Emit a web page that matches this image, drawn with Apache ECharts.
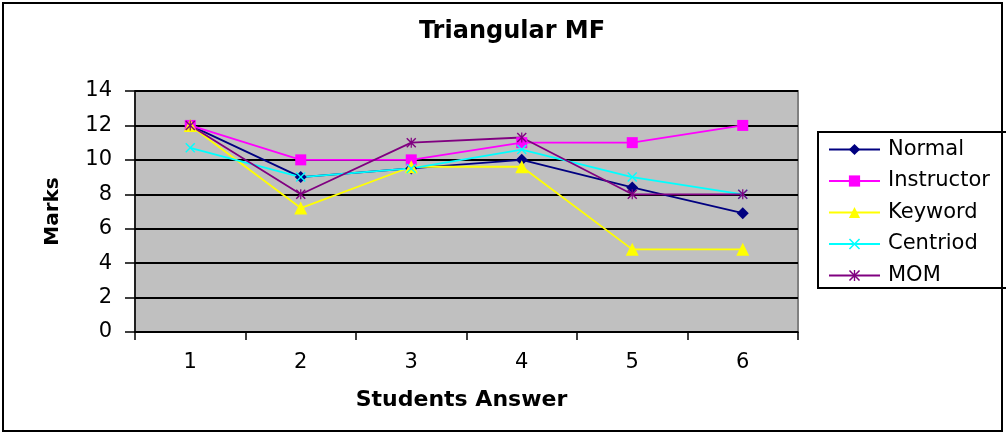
<!DOCTYPE html>
<html>
<head>
<meta charset="utf-8">
<script src="https://cdn.jsdelivr.net/npm/echarts@6/dist/echarts.min.js"></script>
<style>
html,body{margin:0;padding:0;background:#fff;}
#chart{width:1006px;height:433px;}
</style>
</head>
<body>
<div id="chart"></div>
<script>
var categories = ['1', '2', '3', '4', '5', '6'];
var normal     = [12, 9, 9.5, 10, 8.4, 6.9];
var instructor = [12, 10, 10, 11, 11, 12];
var keyword    = [12, 7.2, 9.6, 9.6, 4.8, 4.8];
var centriod   = [10.7, 9, 9.5, 10.6, 9, 8];
var mom        = [12, 8, 11, 11.3, 8, 8];
var seriesNames = ['Normal', 'Instructor', 'Keyword', 'Centriod', 'MOM'];

var crossPath = 'path://M0,1 L1,0 L5,4 L9,0 L10,1 L6,5 L10,9 L9,10 L5,6 L1,10 L0,9 L4,5 Z';
var starPath = 'path://M0,1 L1,0 L5,4 L9,0 L10,1 L6,5 L10,9 L9,10 L5,6 L1,10 L0,9 L4,5 Z M4.4,0 L5.6,0 L5.6,10 L4.4,10 Z';

var FONT = 'DejaVu Sans';

function mkSeries(name, data, color, symbol, size) {
  return {
    name: name,
    type: 'line',
    data: data,
    symbol: symbol,
    symbolSize: size,
    showAllSymbol: true,
    lineStyle: { color: color, width: 1.8 },
    itemStyle: { color: color, borderColor: color, borderWidth: 0 },
    emphasis: { disabled: true },
    animation: false
  };
}

var chart = echarts.init(document.getElementById('chart'), null, { renderer: 'canvas' });
chart.setOption({
  backgroundColor: '#ffffff',
  animation: false,
  title: {
    text: 'Triangular MF',
    left: 507,
    textAlign: 'center',
    top: 15,
    textStyle: { fontFamily: FONT, fontSize: 24, fontWeight: 'bold', color: '#000' }
  },
  legend: {
    orient: 'vertical',
    left: 818,
    top: 132,
    padding: [7, 40, 2, 10],
    itemWidth: 51,
    itemHeight: 14,
    itemGap: 10.5,
    borderColor: '#000',
    borderWidth: 2,
    backgroundColor: '#fff',
    selectedMode: false,
    textStyle: { fontFamily: FONT, fontSize: 21, lineHeight: 21, color: '#000', padding: [0, 0, 0, 3] },
    data: seriesNames
  },
  grid: {
    left: 135,
    right: 208,
    top: 91,
    bottom: 101,
    show: true,
    backgroundColor: '#c0c0c0',
    borderColor: '#808080',
    borderWidth: 2
  },
  xAxis: {
    type: 'category',
    data: categories,
    boundaryGap: true,
    name: 'Students Answer',
    nameLocation: 'middle',
    nameGap: 57,
    nameTextStyle: { fontFamily: FONT, fontSize: 22, fontWeight: 'bold', color: '#000', padding: [0, 10, 0, 0] },
    axisLine: { lineStyle: { color: '#000', width: 1.5 } },
    axisTick: { show: true, alignWithLabel: false, length: 8, lineStyle: { color: '#000', width: 1.5 } },
    axisLabel: { fontFamily: FONT, fontSize: 21, color: '#000', margin: 20 },
    splitLine: { show: false }
  },
  yAxis: {
    type: 'value',
    min: 0,
    max: 14,
    interval: 2,
    name: 'Marks',
    nameLocation: 'middle',
    nameRotate: 90,
    nameGap: 72,
    nameTextStyle: { fontFamily: FONT, fontSize: 20, fontWeight: 'bold', color: '#000' },
    axisLine: { show: true, lineStyle: { color: '#000', width: 1.5 } },
    axisTick: { show: true, inside: false, length: 10, lineStyle: { color: '#000', width: 1.5 } },
    axisLabel: { fontFamily: FONT, fontSize: 21, color: '#000', margin: 23 },
    splitLine: { show: true, lineStyle: { color: '#000', width: 2 } }
  },
  graphic: [{
    type: 'rect',
    silent: true,
    z: 100,
    shape: { x: 3, y: 3, width: 999, height: 428 },
    style: { fill: 'none', stroke: '#000', lineWidth: 2 }
  }],
  series: [
    mkSeries(seriesNames[0], normal, '#000080', 'diamond', 12),
    mkSeries(seriesNames[1], instructor, '#ff00ff', 'rect', 11),
    mkSeries(seriesNames[2], keyword, '#ffff00', 'triangle', 13),
    mkSeries(seriesNames[3], centriod, '#00ffff', crossPath, 10),
    mkSeries(seriesNames[4], mom, '#800080', starPath, 10)
  ]
});
</script>
</body>
</html>
